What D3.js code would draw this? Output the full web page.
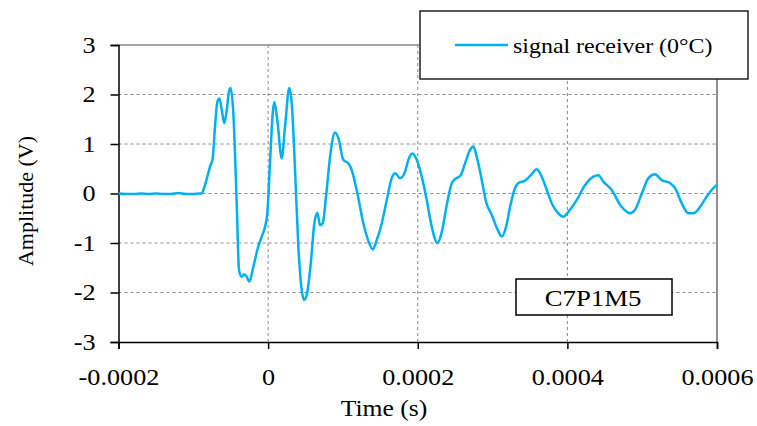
<!DOCTYPE html>
<html>
<head>
<meta charset="utf-8">
<script src="https://cdn.jsdelivr.net/npm/d3@7"></script>
<style>
	body { margin: 0; background: #fff; }
	text { font-family: "Liberation Serif", "Times New Roman", serif; fill: #000; }
</style>
</head>
<body>
<svg id="chart"></svg>
<script>
// signal, time in microseconds, amplitude in volts
const timeUs = [
	-200, -190, -180, -170, -160, -150, -140, -130, -120, -110, -100, -92,
	-88.8, -84.4, -77.7, -74.1, -71.0, -67.9, -65.2, -62.0, -58.6, -55.3, -51.9, -50.0,
	-46.5, -42.0, -38.9, -35.3, -31.8, -28.6, -25.1, -19.8, -13.1, -8.6, -4.1, -1.1,
	2.5, 6.1, 8.3, 12.3, 18.2, 22.6, 28.3, 31.6, 36.0, 40.4, 44.9, 48.0,
	51.6, 57.0, 61.8, 65.8, 69.4, 73.0, 77.4, 82.8, 89.4, 93.9, 100.5, 107.2,
	111.8, 118.4, 127.3, 135.3, 139.8, 145.2, 151.9, 158.6, 165.2, 169.7, 176.3, 183.0,
	187.4, 192.8, 198.7, 205.3, 212.0, 218.7, 226.2, 232.1, 238.8, 245.5, 249.9, 257.5,
	263.2, 269.9, 274.3, 278.9, 285.6, 291.3, 298.9, 307.0, 312.3, 318.1, 323.4, 330.1,
	334.5, 343.5, 351.1, 359.1, 365.8, 372.5, 379.2, 388.0, 394.7, 401.3, 412.6, 423.7,
	434.8, 441.4, 448.1, 459.4, 470.5, 479.4, 483.8, 490.5, 499.5, 508.3, 517.2, 526.2,
	537.3, 544.0, 552.9, 561.8, 568.4, 577.4, 586.3, 595.2, 600
];
const amplitude = [
	0.00, -0.01, -0.01, 0.00, -0.01, 0.00, -0.01, -0.01, 0.01, -0.01, -0.01, 0.00,
	0.00, 0.17, 0.54, 0.71, 1.35, 1.85, 1.92, 1.69, 1.42, 1.69, 2.09, 2.13,
	1.62, -0.20, -1.55, -1.68, -1.63, -1.68, -1.78, -1.48, -1.07, -0.87, -0.67, -0.40,
	0.61, 1.62, 1.85, 1.48, 0.71, 1.35, 2.13, 1.82, 0.47, -1.07, -1.95, -2.15,
	-2.05, -1.41, -0.60, -0.39, -0.64, -0.60, -0.06, 0.74, 1.23, 1.12, 0.68, 0.61,
	0.47, 0.07, -0.60, -1.01, -1.13, -0.94, -0.60, -0.13, 0.31, 0.41, 0.31, 0.44,
	0.68, 0.81, 0.68, 0.34, -0.13, -0.67, -1.00, -0.78, -0.23, 0.21, 0.29, 0.37,
	0.61, 0.88, 0.95, 0.74, 0.27, -0.17, -0.43, -0.74, -0.87, -0.67, -0.27, 0.11,
	0.21, 0.26, 0.37, 0.49, 0.34, 0.07, -0.20, -0.40, -0.47, -0.37, -0.13, 0.17,
	0.34, 0.37, 0.24, 0.07, -0.23, -0.37, -0.40, -0.33, 0.00, 0.31, 0.39, 0.27,
	0.21, 0.11, -0.20, -0.40, -0.40, -0.27, -0.06, 0.11, 0.17
];
const xTicks = [-0.0002, 0, 0.0002, 0.0004, 0.0006];
const yTicks = [-3, -2, -1, 0, 1, 2, 3];
const seriesName = "signal receiver (0°C)";
const sampleLabel = "C7P1M5";

const totalWidth = 757;
const totalHeight = 426;
const margin = { top: 45, right: 40, bottom: 84, left: 118.5 };
const width = totalWidth - margin.left - margin.right;
const height = totalHeight - margin.top - margin.bottom;
const lineColour = "#00B0F0";
const stretch = 1.14; // the original text is a bit wider than plain Times

const data = timeUs.map((t, i) => ({ t: t * 1e-6, v: amplitude[i] }));

const scaleX = d3.scaleLinear().domain([-0.0002, 0.0006]).range([0, width]);
const scaleY = d3.scaleLinear().domain([-3, 3]).range([height, 0]);

const svg = d3.select("#chart")
	.attr("width", totalWidth)
	.attr("height", totalHeight);

// place a wide text at x,y
function wideText(parent, x, y, size, label, anchor) {
	return parent.append("text")
		.attr("transform", "translate(" + x + "," + y + ") scale(" + stretch + ",1)")
		.attr("text-anchor", anchor || "start")
		.attr("font-size", size)
		.text(label);
}

const plot = svg.append("g")
	.attr("transform", "translate(" + margin.left + "," + margin.top + ")");

// dashed grid
plot.append("g")
	.selectAll("line")
	.data(yTicks.filter(d => d > -3 && d < 3))
	.join("line")
	.attr("x1", 0).attr("x2", width)
	.attr("y1", d => scaleY(d)).attr("y2", d => scaleY(d))
	.attr("stroke", "#888").attr("stroke-dasharray", "3,3");

plot.append("g")
	.selectAll("line")
	.data(xTicks.filter(d => d > -0.0002 && d < 0.0006))
	.join("line")
	.attr("x1", d => scaleX(d)).attr("x2", d => scaleX(d))
	.attr("y1", 0).attr("y2", height)
	.attr("stroke", "#888").attr("stroke-dasharray", "3,3");

// top and right border
plot.append("line")
	.attr("x1", 0).attr("x2", width)
	.attr("y1", 0).attr("y2", 0)
	.attr("stroke", "#888").attr("stroke-width", 1.5);
plot.append("line")
	.attr("x1", width).attr("x2", width)
	.attr("y1", 0).attr("y2", height)
	.attr("stroke", "#222");

// axes
const xAxis = g => g
	.attr("transform", "translate(0," + height + ")")
	.call(d3.axisBottom(scaleX).tickValues(xTicks).tickSize(7).tickPadding(20)
		.tickFormat(d => d === 0 ? "0" : d3.format(".4f")(d).replace("−", "-")));

const yAxis = g => g
	.call(d3.axisLeft(scaleY).tickValues(yTicks).tickSize(8).tickPadding(15)
		.tickFormat(d => String(d)));

plot.append("g").call(xAxis);
plot.append("g").call(yAxis);

plot.selectAll(".domain, .tick line").attr("stroke", "#000").attr("stroke-width", 1.5);
plot.selectAll(".tick text")
	.attr("font-size", 23)
	.attr("font-family", "Liberation Serif");
// widen tick labels; keep the y labels' right edge where it was
plot.selectAll(".tick text").each(function() {
	const t = d3.select(this);
	const x = +t.attr("x") || 0;
	t.attr("x", x / stretch).attr("transform", "scale(" + stretch + ",1)");
});

// the signal
plot.append("path")
	.datum(data)
	.attr("fill", "none")
	.attr("stroke", lineColour)
	.attr("stroke-width", 2.5)
	.attr("stroke-linejoin", "round")
	.attr("d", d3.line().x(d => scaleX(d.t)).y(d => scaleY(d.v)).curve(d3.curveMonotoneX));

// axis titles
wideText(svg, 384, 416, 22.5, "Time (s)", "middle");

svg.append("text")
	.attr("transform", "translate(33,201) rotate(-90)")
	.attr("text-anchor", "middle")
	.attr("font-size", 22)
	.text("Amplitude (V)");

// legend box
const legend = svg.append("g");
legend.append("rect")
	.attr("x", 420).attr("y", 11).attr("width", 328).attr("height", 68)
	.attr("fill", "#fff").attr("stroke", "#222").attr("stroke-width", 1.5);
legend.append("line")
	.attr("x1", 455).attr("x2", 508).attr("y1", 45).attr("y2", 45)
	.attr("stroke", lineColour).attr("stroke-width", 2.5);
wideText(legend, 513, 53, 21, seriesName);

// sample label box
const tag = svg.append("g");
tag.append("rect")
	.attr("x", 516).attr("y", 279).attr("width", 156).attr("height", 36)
	.attr("fill", "#fff").attr("stroke", "#000").attr("stroke-width", 1.5);
wideText(tag, 593, 306, 23.5, sampleLabel, "middle");
</script>
</body>
</html>
